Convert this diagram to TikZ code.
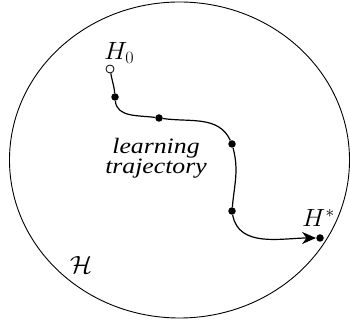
\documentclass[tikz,border=0pt]{standalone}
\usepackage{fontspec}
\setmainfont{Liberation Serif}
\usepackage{tikz}
\usetikzlibrary{arrows.meta,positioning}

\begin{document}
\begin{tikzpicture}[x=1pt,y=1pt,
  dot/.style={circle,fill,inner sep=0pt,minimum size=7.5pt},
  origin/.style={circle,draw,fill=white,inner sep=0pt,minimum size=8pt,line width=0.8pt},
  traj/.style={line width=1.2pt},
  mlbl/.style={inner sep=0pt,xscale=1.05,font=\fontsize{23}{26}\selectfont},
  tlbl/.style={inner sep=0pt,xscale=1.17,align=center,font=\fontsize{22}{14}\selectfont\itshape}]
  \useasboundingbox (0,0) rectangle (350,323);
  % hypothesis space
  \draw[line width=0.9pt] (179.5,163) ellipse [x radius=170, y radius=158];
  \node[mlbl,font=\fontsize{28}{30}\selectfont] (space) at (81,58) {$\mathcal{H}$};
  % points along the trajectory
  \node[origin] (h0)    at (110,254) {};
  \node[dot]    (p1)    at (115,226) {};
  \node[dot]    (p2)    at (159,205) {};
  \node[dot]    (p3)    at (232,179) {};
  \node[dot]    (p4)    at (232,112) {};
  \node[dot]    (hstar) at (320,85)  {};
  \node[mlbl,anchor=base west] (h0lbl)    at (104,263) {$H_0$};
  \node[mlbl,anchor=base west] (hstarlbl) at (302,96)  {$H^*$};
  \node[tlbl] (trajlbl) at (156,165) {learning\\trajectory};
  % the path
  \draw[traj] (h0) to[out=-80,in=95] (p1)
    to[out=-85,in=172] (p2)
    to[out=-8,in=115] (p3)
    to[out=-75,in=85] (p4);
  \draw[traj,-{Stealth[length=14pt,width=12pt,inset=4.5pt]}] (p4) to[out=-80,in=180] (hstar);
\end{tikzpicture}
\end{document}
